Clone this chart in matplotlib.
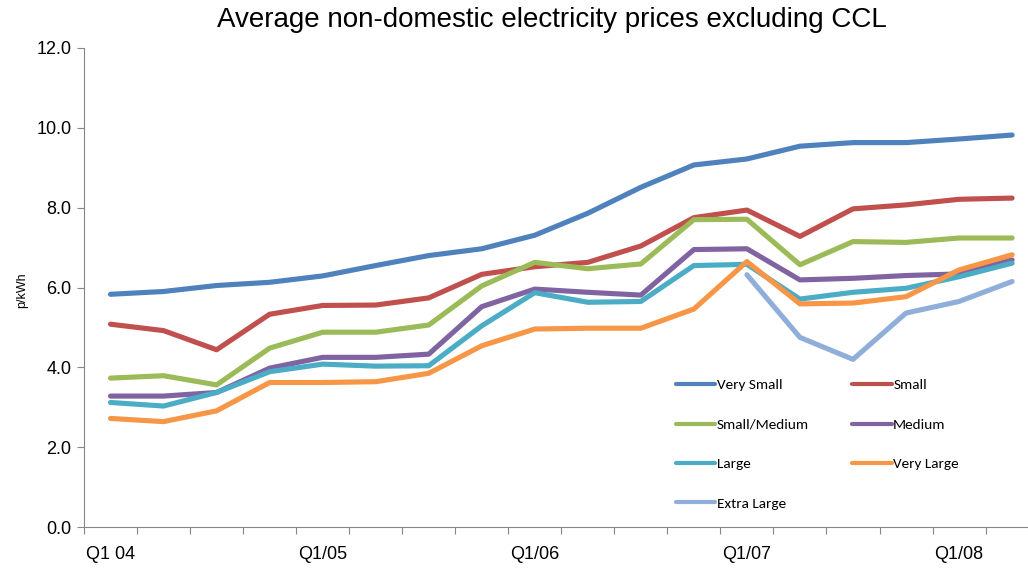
import numpy as np
import matplotlib.pyplot as plt
from matplotlib.ticker import FixedLocator, NullFormatter

plt.rcParams['font.family'] = ['Liberation Sans Narrow', 'Liberation Sans', 'DejaVu Sans']

quarters = ['Q1 04', 'Q2 04', 'Q3 04', 'Q4 04',
            'Q1/05', 'Q2/05', 'Q3/05', 'Q4/05',
            'Q1/06', 'Q2/06', 'Q3/06', 'Q4/06',
            'Q1/07', 'Q2/07', 'Q3/07', 'Q4/07',
            'Q1/08', 'Q2/08']

very_small = [5.83, 5.90, 6.05, 6.13, 6.29, 6.55, 6.80, 6.97, 7.31, 7.86, 8.51, 9.07,
              9.22, 9.54, 9.63, 9.63, 9.72, 9.82]
small = [5.08, 4.92, 4.44, 5.33, 5.55, 5.56, 5.74, 6.33, 6.52, 6.63, 7.04, 7.75,
         7.94, 7.28, 7.97, 8.07, 8.21, 8.24]
small_medium = [3.73, 3.79, 3.56, 4.48, 4.88, 4.88, 5.06, 6.04, 6.63, 6.47, 6.59, 7.70,
                7.71, 6.57, 7.15, 7.13, 7.24, 7.24]
medium = [3.28, 3.28, 3.37, 3.98, 4.25, 4.25, 4.33, 5.52, 5.96, 5.88, 5.81, 6.95,
          6.97, 6.19, 6.23, 6.30, 6.34, 6.69]
large = [3.12, 3.03, 3.37, 3.89, 4.08, 4.03, 4.04, 5.04, 5.87, 5.63, 5.65, 6.55,
         6.58, 5.71, 5.88, 5.98, 6.27, 6.61]
very_large = [2.72, 2.64, 2.91, 3.62, 3.62, 3.64, 3.85, 4.54, 4.96, 4.98, 4.98, 5.46,
              6.65, 5.59, 5.61, 5.77, 6.44, 6.82]
extra_large = [None] * 12 + [6.32, 4.75, 4.20, 5.36, 5.65, 6.15]

series = [
    ('Very Small', very_small, '#4F81BD'),
    ('Small', small, '#C0504D'),
    ('Small/Medium', small_medium, '#9BBB59'),
    ('Medium', medium, '#8064A2'),
    ('Large', large, '#4BACC6'),
    ('Very Large', very_large, '#F79646'),
    ('Extra Large', extra_large, '#90AEDA'),
]

fig = plt.figure(figsize=(10.28, 5.69), dpi=100)
ax = fig.add_axes([84 / 1028, 1 - 527 / 569, (1028 - 84) / 1028, (527 - 48) / 569])

x = np.arange(len(quarters))
handles = {}
for name, vals, col in series:
    y = np.array([np.nan if v is None else v for v in vals], dtype=float)
    ln, = ax.plot(x, y, color=col, lw=3.7, label=name, solid_capstyle='round',
                  solid_joinstyle='round')
    handles[name] = ln

ax.set_ylim(0, 12)
ax.set_xlim(-0.5, 17.3)
ax.set_yticks(np.arange(0, 12.1, 2))
ax.set_yticklabels(['%.1f' % v for v in np.arange(0, 12.1, 2)], fontsize=13)

# ticks between categories, labels every 4th quarter
ax.xaxis.set_major_locator(FixedLocator(np.arange(-0.5, 18, 1)))
ax.xaxis.set_major_formatter(NullFormatter())
ax.xaxis.set_minor_locator(FixedLocator(x[::4]))
ax.set_xticklabels([quarters[i] for i in x[::4]], minor=True, fontsize=13)
ax.tick_params(axis='x', which='major', length=5, color='#868686', direction='out')
ax.tick_params(axis='x', which='minor', length=0, pad=14)
ax.tick_params(axis='y', length=5, color='#868686', direction='out', pad=4)

for s in ['top', 'right']:
    ax.spines[s].set_visible(False)
for s in ['left', 'bottom']:
    ax.spines[s].set_color('#868686')

fig.text(22 / 1028, 1 - 290 / 569, 'p/kWh', rotation=90, ha='center', va='center',
         fontsize=9)
fig.text(552 / 1028, 1 - 20 / 569, 'Average non-domestic electricity prices excluding CCL',
         ha='center', va='center', fontsize=20)

order = ['Very Small', 'Small/Medium', 'Large', 'Extra Large', 'Small', 'Medium', 'Very Large']
leg = fig.legend([handles[n] for n in order], order, ncol=2,
                 loc='upper left', bbox_to_anchor=(662 / 1028, 1 - 365 / 569),
                 frameon=False, labelspacing=1.75, handlelength=2.6,
                 handletextpad=0.1, columnspacing=2.8,
                 prop={'family': ['Carlito', 'Liberation Sans', 'DejaVu Sans'], 'size': 11})
for l in leg.get_lines():
    l.set_linewidth(3)

plt.savefig('out.png', dpi=100)
